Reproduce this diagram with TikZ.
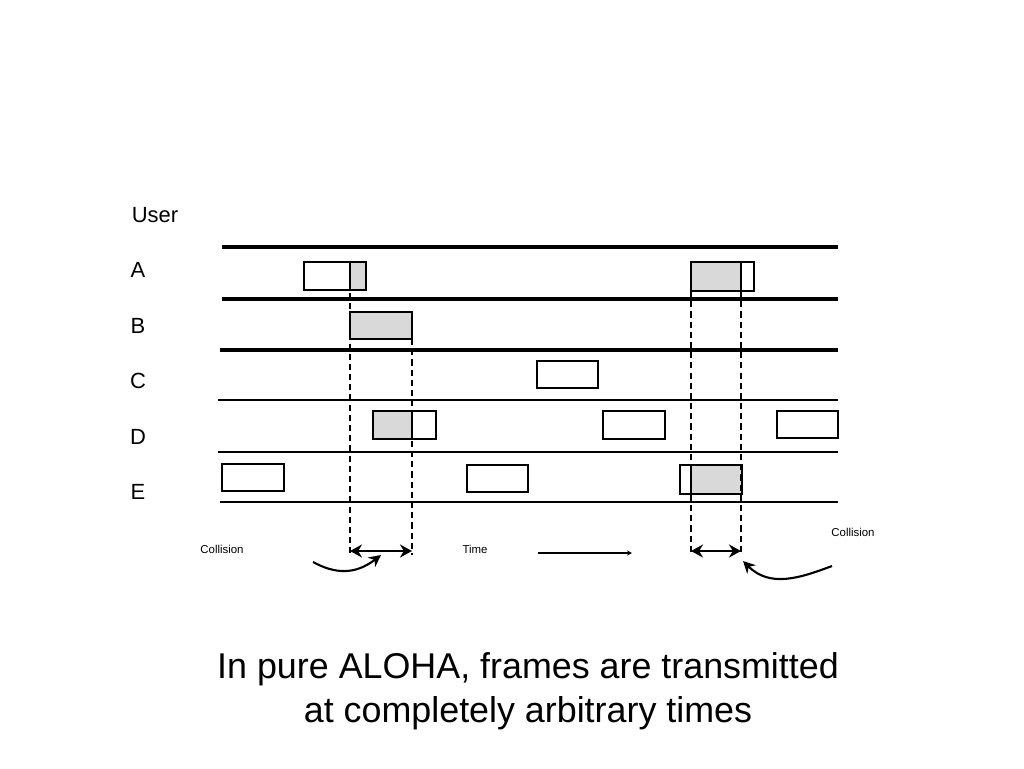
\documentclass[tikz,border=0pt]{standalone}
\usepackage{fontspec}
\setmainfont{Liberation Sans}
\usetikzlibrary{arrows.meta}
\definecolor{cshade}{HTML}{D9D9D9}
\tikzset{
  every picture/.style={line width=0.8pt},
  frame/.style={draw=black, fill=white, line width=1pt},
  hit/.style={draw=black, fill=cshade, line width=1pt},
  track/.style={line width=0.6pt},
  bigtrack/.style={line width=1.8pt},
  guide/.style={dash pattern=on 3.5pt off 2.3pt, line width=1pt},
  span/.style={{Stealth[length=2.4mm, width=2.6mm]}-{Stealth[length=2.4mm, width=2.6mm]}, line width=1.6pt},
  pointer/.style={-{Stealth[length=2.4mm, width=2.4mm]}, line width=1.2pt},
  lab/.style={font=\fontsize{12.5}{15}\selectfont},
  small/.style={font=\fontsize{6.5}{8}\selectfont},
  caption/.style={font=\fontsize{20.4}{25}\selectfont, align=center},
}

\begin{document}
\begin{tikzpicture}[x=0.02cm, y=-0.02cm]
  \useasboundingbox (0,0) rectangle (1024,768);
  % user labels
  \node[lab] (user) at (155,215) {User};
  \node[lab] (ua) at (138,270) {A};
  \node[lab] (ub) at (138,326) {B};
  \node[lab] (uc) at (138,381) {C};
  \node[lab] (ud) at (138,437) {D};
  \node[lab] (ue) at (138,492) {E};
  % channel lines
  \draw[bigtrack] (222,247) -- (838,247);
  \draw[bigtrack] (222,299) -- (838,299);
  \draw[bigtrack] (220,350) -- (838,350);
  \draw[track] (218,400) -- (838,400);
  \draw[track] (218,452) -- (838,452);
  \draw[track] (220,502) -- (838,502);
  % frames
  \draw[frame] (304,262) rectangle (366,290);
  \draw[hit] (350,262) rectangle (366,290);
  \draw[frame] (691,262) rectangle (754,291);
  \draw[hit] (691,262) rectangle (741,291);
  \draw[hit] (350,312) rectangle (412,339);
  \draw[frame] (537,361) rectangle (598,388);
  \draw[frame] (373,411) rectangle (436,439);
  \draw[hit] (373,411) rectangle (412,439);
  \draw[frame] (603,411) rectangle (665,439);
  \draw[frame] (777,411) rectangle (838,438);
  \draw[frame] (222,464) rectangle (284,491);
  \draw[frame] (467,465) rectangle (528,492);
  \draw[frame] (680,465) rectangle (742,494);
  \draw[hit] (691,465) rectangle (742,494);
  % collision windows
  \coordinate (c1t) at (350,262);
  \coordinate (c1b) at (350,555);
  \coordinate (c2t) at (412,339);
  \coordinate (c2b) at (412,555);
  \coordinate (c3t) at (691,291);
  \coordinate (c3b) at (691,555);
  \coordinate (c4t) at (741,291);
  \coordinate (c4b) at (741,555);
  \draw[guide] (c1t) -- (c1b);
  \draw[guide] (c2t) -- (c2b);
  \draw[guide] (c3t) -- (c3b);
  \draw[guide] (c4t) -- (c4b);
  \coordinate (w1l) at (350,551);
  \coordinate (w1r) at (412,551);
  \coordinate (w2l) at (691,551);
  \coordinate (w2r) at (741,551);
  \draw[span] (w1l) -- (w1r);
  \draw[span] (w2l) -- (w2r);
  % notes
  \node[small] (coll1) at (222,549) {Collision};
  \node[small] (time) at (475,549) {Time};
  \node[small] (coll2) at (853,532) {Collision};
  \coordinate (t0) at (538,553);
  \coordinate (t1) at (632,553);
  \draw[-{Stealth[length=1mm, width=1mm]}, line width=0.7pt] (t0) -- (t1);
  \coordinate (p0) at (313,562);
  \coordinate (p1) at (381,555);
  \draw[pointer] (p0) .. controls (335,574) and (355,575) .. (p1);
  \coordinate (q0) at (832,566);
  \coordinate (q1) at (743,561);
  \draw[pointer] (q0) .. controls (800,578) and (770,588) .. (q1);
  % caption
  \node[caption] (cap) at (528,691) {In pure ALOHA, frames are transmitted\\at completely arbitrary times};
\end{tikzpicture}
\end{document}
